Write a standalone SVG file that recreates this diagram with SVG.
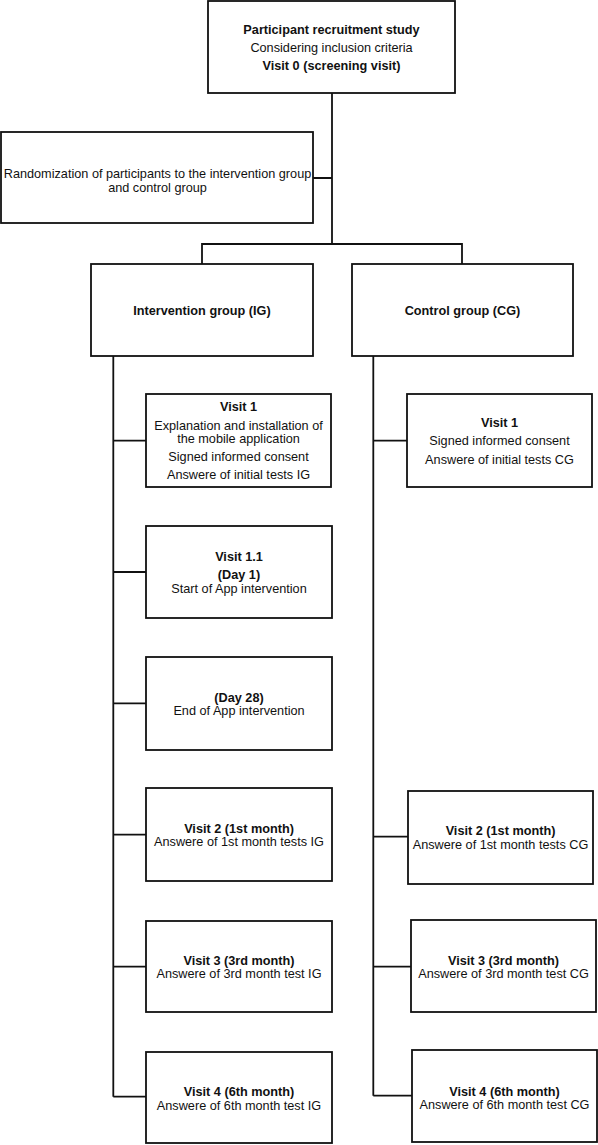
<svg xmlns="http://www.w3.org/2000/svg" width="598" height="1145" viewBox="0 0 598 1145">
<style>
rect{fill:#fff;stroke:#111;stroke-width:1.8}
text{font-family:"Liberation Sans",Arial,sans-serif;font-size:12.7px;fill:#111;text-anchor:middle}
.b{font-weight:bold}
#connectors path{fill:none;stroke:#111;stroke-width:1.8}
</style>
<rect x="0" y="0" width="598" height="1145" style="stroke:none"/>
<g id="connectors">
<path d="M332,93V244M313,178H332M202,264V244H462V264"/>
<path d="M113.3,356V1096.7M113.3,440.7H146M113.3,572H146M113.3,703.3H146M113.3,834.7H146M113.3,966.7H146M113.3,1096.7H146"/>
<path d="M373.3,356V1095.7M373.3,440.7H407M373.3,836.7H408M373.3,966.7H411M373.3,1095.7H412"/>
</g>
<g id="recruitment">
<rect x="208" y="1" width="247" height="92"/>
<text x="331.5" y="34" class="b">Participant recruitment study</text>
<text x="331.5" y="51.5">Considering inclusion criteria</text>
<text x="331.5" y="69.5" class="b">Visit 0 (screening visit)</text>
</g>
<g id="randomization">
<rect x="1" y="132" width="312" height="91"/>
<text x="157.5" y="178">Randomization of participants to the intervention group</text>
<text x="157.5" y="192">and control group</text>
</g>
<g id="ig">
<rect x="91" y="264" width="222" height="92"/>
<text x="202" y="314.5" class="b">Intervention group (IG)</text>
</g>
<g id="cg">
<rect x="352" y="264" width="221" height="92"/>
<text x="462.5" y="314.5" class="b">Control group (CG)</text>
</g>
<g id="ig-visit1">
<rect x="146" y="394" width="185" height="93"/>
<text x="238.5" y="410.5" class="b">Visit 1</text>
<text x="238.5" y="429.5">Explanation and installation of</text>
<text x="238.5" y="442.5">the mobile application</text>
<text x="238.5" y="460.5">Signed informed consent</text>
<text x="238.5" y="479">Answere of initial tests IG</text>
</g>
<g id="cg-visit1">
<rect x="407" y="394" width="185" height="93"/>
<text x="499.5" y="427" class="b">Visit 1</text>
<text x="499.5" y="445">Signed informed consent</text>
<text x="499.5" y="463.5">Answere of initial tests CG</text>
</g>
<g id="ig-visit11">
<rect x="146" y="526" width="186" height="92"/>
<text x="239" y="560.5" class="b">Visit 1.1</text>
<text x="239" y="579" class="b">(Day 1)</text>
<text x="239" y="592.5">Start of App intervention</text>
</g>
<g id="ig-day28">
<rect x="146" y="657" width="186" height="93"/>
<text x="239" y="702" class="b">(Day 28)</text>
<text x="239" y="714.5">End of App intervention</text>
</g>
<g id="ig-visit2">
<rect x="146" y="788" width="186" height="93"/>
<text x="239" y="833" class="b">Visit 2 (1st month)</text>
<text x="239" y="846">Answere of 1st month tests IG</text>
</g>
<g id="cg-visit2">
<rect x="408" y="791" width="185" height="93"/>
<text x="500.5" y="835" class="b">Visit 2 (1st month)</text>
<text x="500.5" y="848.5">Answere of 1st month tests CG</text>
</g>
<g id="ig-visit3">
<rect x="146" y="921" width="186" height="91"/>
<text x="239" y="964.5" class="b">Visit 3 (3rd month)</text>
<text x="239" y="977.5">Answere of 3rd month test IG</text>
</g>
<g id="cg-visit3">
<rect x="411" y="920" width="185" height="92"/>
<text x="503.5" y="964.5" class="b">Visit 3 (3rd month)</text>
<text x="503.5" y="977.5">Answere of 3rd month test CG</text>
</g>
<g id="ig-visit4">
<rect x="146" y="1052" width="186" height="91"/>
<text x="239" y="1096" class="b">Visit 4 (6th month)</text>
<text x="239" y="1109.5">Answere of 6th month test IG</text>
</g>
<g id="cg-visit4">
<rect x="412" y="1050" width="185" height="92"/>
<text x="504.5" y="1095.5" class="b">Visit 4 (6th month)</text>
<text x="504.5" y="1108.5">Answere of 6th month test CG</text>
</g>
</svg>
